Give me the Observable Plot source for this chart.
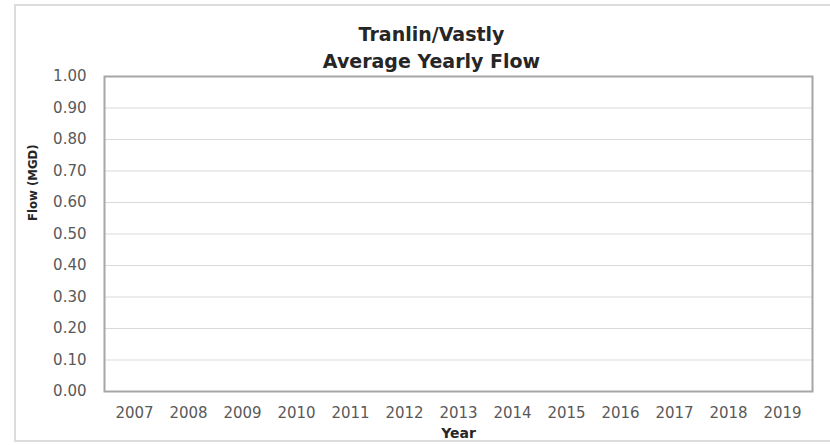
<!DOCTYPE html>
<html>
<head>
<meta charset="utf-8">
<script src="https://cdn.jsdelivr.net/npm/d3@7"></script>
<script src="https://cdn.jsdelivr.net/npm/@observablehq/plot@0.6"></script>
<style>
  html, body { margin: 0; padding: 0; background: #fff; }
  #wrap { position: relative; width: 830px; height: 445px; overflow: hidden; }
  #border { position: absolute; left: 14px; top: 4px; width: 840px; height: 438px; border: 2px solid #dcdcdc; box-sizing: border-box; }
  #chart { position: absolute; left: 0; top: 0; }
</style>
</head>
<body>
<div id="wrap"><div id="border"></div><div id="chart"></div></div>
<script>
const years = ["2007","2008","2009","2010","2011","2012","2013","2014","2015","2016","2017","2018","2019"];
const yTicks = [0, 0.1, 0.2, 0.3, 0.4, 0.5, 0.6, 0.7, 0.8, 0.9, 1.0];
const titleText = "Tranlin/Vastly\nAverage Yearly Flow";
const xLabel = "Year";
const yLabel = "Flow (MGD)";

const tickColor = "#595959";
const plot = Plot.plot({
  width: 830,
  height: 445,
  marginLeft: 104,
  marginRight: 18,
  marginTop: 76,
  marginBottom: 54,
  style: { fontFamily: "DejaVu Sans, sans-serif", background: "transparent", overflow: "visible" },
  x: { type: "band", domain: years, padding: 0 },
  y: { domain: [0, 1] },
  marks: [
    Plot.gridY(yTicks, { stroke: "#d9d9d9", strokeOpacity: 1, strokeWidth: 1 }),
    Plot.frame({ stroke: "#a6a6a6", strokeWidth: 2 }),
    Plot.axisY(yTicks, { tickSize: 0, tickPadding: 18, tickFormat: d => d.toFixed(2), fontSize: 15, fill: tickColor, label: null }),
    Plot.axisX(years, { tickSize: 0, tickPadding: 16, fontSize: 15, fill: tickColor, label: null }),
    Plot.text([titleText], { text: d => d, frameAnchor: "top", dx: -27, dy: -9, lineAnchor: "bottom", lineHeight: 1.42, fontSize: 19, fontWeight: "bold", fill: "#262626" }),
    Plot.text([xLabel], { text: d => d, frameAnchor: "bottom", dy: 42, lineAnchor: "middle", fontSize: 14, fontWeight: "bold", fill: "#262626" }),
    Plot.text([yLabel], { text: d => d, frameAnchor: "left", rotate: -90, dx: -72, dy: -13, lineAnchor: "middle", fontSize: 13, fontWeight: "bold", fill: "#262626", fontFamily: "DejaVu Sans Condensed, DejaVu Sans, sans-serif" })
  ]
});
document.getElementById("chart").appendChild(plot);
</script>
</body>
</html>
